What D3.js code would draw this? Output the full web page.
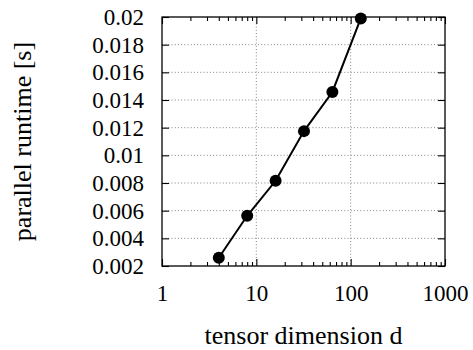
<!DOCTYPE html>
<html>
<head>
<meta charset="utf-8">
<script src="https://cdn.jsdelivr.net/npm/d3@7"></script>
<style>
  body { margin: 0; background: #fff; }
  svg text { fill: #000; }
</style>
</head>
<body>
<div id="chart"></div>
<script>
// data
const dims = [4, 8, 16, 32, 64, 128];
const runtimes = [0.0026, 0.00563, 0.00816, 0.01175, 0.01458, 0.0199];
const yTicks = [0.002, 0.004, 0.006, 0.008, 0.01, 0.012, 0.014, 0.016, 0.018, 0.02];
const xTicks = [1, 10, 100, 1000];
const xMinor = [2,3,4,5,6,7,8,9,20,30,40,50,60,70,80,90,200,300,400,500,600,700,800,900];

const W = 473, H = 350;
const margin = {top: 17, right: 28, bottom: 84, left: 162};
const w = W - margin.left - margin.right;
const h = H - margin.top - margin.bottom;
const font = "'Liberation Serif', 'DejaVu Serif', serif";

const svg = d3.select("#chart").append("svg")
    .attr("width", W)
    .attr("height", H)
    .attr("font-family", font);

const g = svg.append("g")
    .attr("transform", "translate(" + margin.left + "," + margin.top + ")");

const x = d3.scaleLog().domain([1, 1000]).range([0, w]);
const y = d3.scaleLinear().domain([0.002, 0.02]).range([h, 0]);

// grid
g.append("g").selectAll("line.hg")
    .data(yTicks.slice(1, -1))
    .join("line")
    .attr("x1", 0).attr("x2", w)
    .attr("y1", d => y(d)).attr("y2", d => y(d))
    .attr("stroke", "#777").attr("stroke-width", 0.9)
    .attr("stroke-dasharray", "1,2.2");

g.append("g").selectAll("line.vg")
    .data(xTicks.slice(1, -1))
    .join("line")
    .attr("x1", d => x(d)).attr("x2", d => x(d))
    .attr("y1", 0).attr("y2", h)
    .attr("stroke", "#777").attr("stroke-width", 0.9)
    .attr("stroke-dasharray", "1,2.2");

// axes (ticks inward)
function styleAxis(sel) {
    sel.attr("font-family", font).attr("font-size", 23);
    sel.select(".domain").remove();
    sel.selectAll(".tick line").attr("stroke", "#000").attr("stroke-width", 1.1);
}

g.append("g")
    .call(d3.axisLeft(y).tickValues(yTicks).tickSizeInner(-7).tickSizeOuter(0)
        .tickPadding(18).tickFormat(d => String(+d.toFixed(3))))
    .call(styleAxis);

g.append("g")
    .attr("transform", "translate(" + w + ",0)")
    .call(d3.axisRight(y).tickValues(yTicks).tickSizeInner(-7).tickSizeOuter(0).tickFormat(""))
    .call(styleAxis);

g.append("g")
    .attr("transform", "translate(0," + h + ")")
    .call(d3.axisBottom(x).tickValues(xTicks).tickSizeInner(-7).tickSizeOuter(0)
        .tickPadding(19).tickFormat(d3.format("d")))
    .call(styleAxis);

g.append("g")
    .call(d3.axisTop(x).tickValues(xTicks).tickSizeInner(-7).tickSizeOuter(0).tickFormat(""))
    .call(styleAxis);

g.append("g")
    .attr("transform", "translate(0," + h + ")")
    .call(d3.axisBottom(x).tickValues(xMinor).tickSizeInner(-4).tickSizeOuter(0).tickFormat(""))
    .call(styleAxis);

g.append("g")
    .call(d3.axisTop(x).tickValues(xMinor).tickSizeInner(-4).tickSizeOuter(0).tickFormat(""))
    .call(styleAxis);

// line + markers
const pts = dims.map((d, i) => ({d: d, t: runtimes[i]}));

g.append("path")
    .datum(pts)
    .attr("fill", "none")
    .attr("stroke", "#000")
    .attr("stroke-width", 2)
    .attr("d", d3.line().x(p => x(p.d)).y(p => y(p.t)));

g.append("g").selectAll("circle")
    .data(pts)
    .join("circle")
    .attr("cx", p => x(p.d))
    .attr("cy", p => y(p.t))
    .attr("r", 6)
    .attr("fill", "#000");

// frame
g.append("rect")
    .attr("width", w).attr("height", h)
    .attr("fill", "none")
    .attr("stroke", "#000")
    .attr("stroke-width", 1.3);

// axis titles
svg.append("text")
    .attr("x", margin.left + w / 2)
    .attr("y", 344)
    .attr("text-anchor", "middle")
    .attr("font-size", 26)
    .text("tensor dimension d");

svg.append("text")
    .attr("transform", "translate(31," + (margin.top + h / 2) + ") rotate(-90)")
    .attr("text-anchor", "middle")
    .attr("font-size", 26)
    .text("parallel runtime [s]");
</script>
</body>
</html>
